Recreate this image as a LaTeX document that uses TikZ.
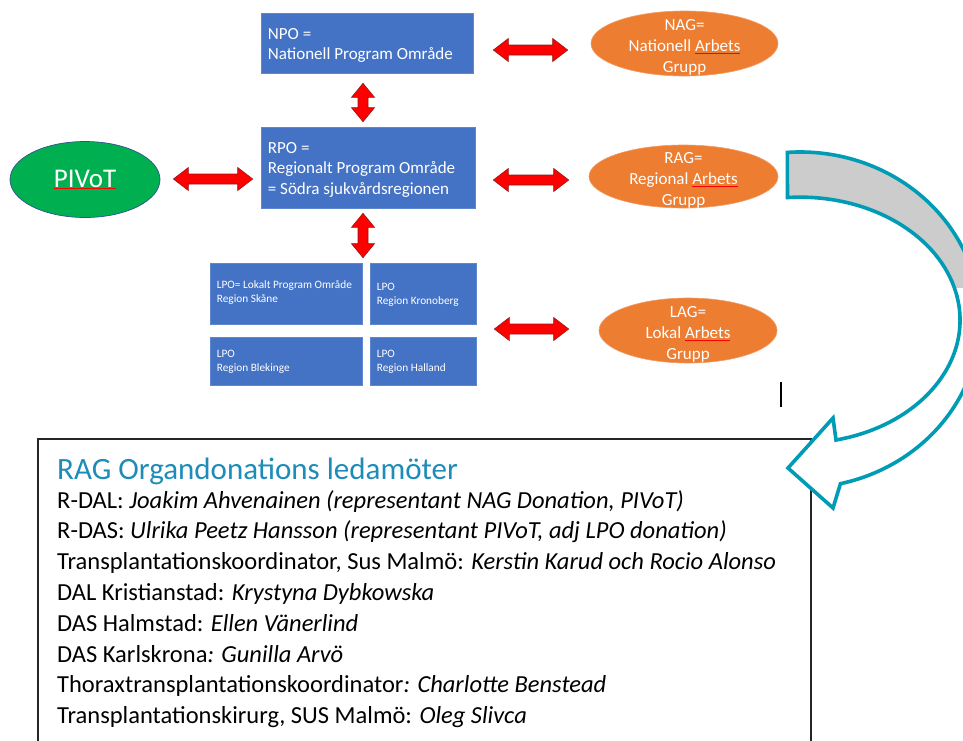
\documentclass[tikz,border=0pt]{standalone}
\usepackage{fontspec}
\setmainfont{Carlito}
\usetikzlibrary{shapes.geometric,calc}
\definecolor{boxblue}{RGB}{68,114,196}
\definecolor{boxedge}{RGB}{95,135,208}
\definecolor{agorange}{RGB}{237,125,49}
\definecolor{agedge}{RGB}{242,155,100}
\definecolor{pivgreen}{RGB}{0,176,80}
\definecolor{pivedge}{RGB}{47,82,143}
\definecolor{arrred}{RGB}{255,0,0}
\definecolor{arredge}{RGB}{150,25,25}
\definecolor{curveteal}{RGB}{0,155,180}
\definecolor{titleblue}{RGB}{30,140,185}
\definecolor{bandgrey}{RGB}{204,204,204}
\newcommand\spell[1]{\textcolor{red}{\underline{\textcolor{white}{#1}}}}
\newcommand\hdarrow[2]{%
  \path[redarrow] let \p1=(#1), \p2=(#2) in
    (\x1,\y1) -- (\x1+15pt,\y1+11.5pt) -- (\x1+15pt,\y1+5pt) -- (\x2-15pt,\y1+5pt)
    -- (\x2-15pt,\y1+11.5pt) -- (\x2,\y1) -- (\x2-15pt,\y1-11.5pt) -- (\x2-15pt,\y1-5pt)
    -- (\x1+15pt,\y1-5pt) -- (\x1+15pt,\y1-11.5pt) -- cycle;}
\newcommand\vdarrow[2]{%
  \path[redarrow] let \p1=(#1), \p2=(#2) in
    (\x1,\y1) -- (\x1+11.5pt,\y1-14pt) -- (\x1+5pt,\y1-14pt) -- (\x1+5pt,\y2+14pt)
    -- (\x1+11.5pt,\y2+14pt) -- (\x1,\y2) -- (\x1-11.5pt,\y2+14pt) -- (\x1-5pt,\y2+14pt)
    -- (\x1-5pt,\y1-14pt) -- (\x1-11.5pt,\y1-14pt) -- cycle;}
\newcommand\curvedarrowpath{(787.4,152.4) arc[start angle=-94, end angle=77, x radius=180, y radius=168]
  -- (833,508) -- (788,468) -- (833,418) -- (836,440)
  arc[start angle=77, end angle=-94.5, x radius=160, y radius=123] -- cycle}
\begin{document}
\begin{tikzpicture}[x=1pt,y=-1pt,
  bluebox/.style={draw=boxedge, line width=0.6pt, fill=boxblue, inner sep=0pt},
  boxtext/.style={anchor=north west, inner sep=0pt, text=white, align=left,
    font=\fontsize{17}{20.5}\selectfont},
  lpotext/.style={boxtext, font=\fontsize{11.3}{14}\selectfont},
  agell/.style={ellipse, draw=agedge, line width=0.6pt, fill=agorange, inner sep=0pt},
  agtext/.style={text=white, align=center, inner sep=0pt, font=\fontsize{17}{21}\selectfont},
  pivell/.style={ellipse, draw=pivedge, line width=0.7pt, fill=pivgreen, inner sep=0pt,
    text=white, font=\fontsize{27}{30}\selectfont},
  redarrow/.style={fill=arrred, draw=arredge, line width=0.6pt, line join=miter},
  curvearrow/.style={draw=curveteal, line width=3.6pt, line join=miter},
  boxline/.style={draw=black!85, line width=1.2pt},
  titletext/.style={anchor=base west, inner sep=0pt, text=titleblue, font=\fontsize{31}{36}\selectfont},
  member/.style={anchor=base west, inner sep=0pt, font=\fontsize{24.5}{28}\selectfont}]
\useasboundingbox (0,0) rectangle (963,740);
\fill[white] (0,0) rectangle (963,740);

% program areas
\node[bluebox, minimum width=212pt, minimum height=60pt] (npo) at (367,43) {};
\node[boxtext] (npot) at ($(npo.north west)+(7,15.5)$) {NPO =\\Nationell Program Område};
\node[bluebox, minimum width=214pt, minimum height=81pt] (rpo) at (368,167.5) {};
\node[boxtext] (rpot) at ($(rpo.north west)+(7,15.5)$) {RPO =\\Regionalt Program Område\\= Södra sjukvårdsregionen};
\node[bluebox, minimum width=152pt, minimum height=61pt] (skane) at (286,293.5) {};
\node[lpotext] (skanet) at ($(skane.north west)+(7,17.5)$) {LPO= Lokalt Program Område\\Region Skåne};
\node[bluebox, minimum width=106pt, minimum height=61pt] (kron) at (423,293.5) {};
\node[lpotext] (kront) at ($(kron.north west)+(7,20)$) {LPO\\Region Kronoberg};
\node[bluebox, minimum width=152pt, minimum height=48pt] (blek) at (286,361) {};
\node[lpotext] (blekt) at ($(blek.north west)+(7,13.5)$) {LPO\\Region Blekinge};
\node[bluebox, minimum width=106pt, minimum height=48pt] (hall) at (423,361) {};
\node[lpotext] (hallt) at ($(hall.north west)+(7,13.5)$) {LPO\\Region Halland};

% working groups
\node[agell, minimum width=187pt, minimum height=65pt] (nag) at (684.5,43.5) {};
\node[agtext] (nagt) at ($(nag.center)+(0,4)$) {NAG=\\Nationell \spell{Arbets}\\Grupp};
\node[agell, minimum width=189pt, minimum height=63pt] (rag) at (683.5,176.5) {};
\node[agtext] (ragt) at ($(rag.center)+(0,4)$) {RAG=\\Regional \spell{Arbets}\\Grupp};
\node[agell, minimum width=178pt, minimum height=65pt] (lag) at (688,330.5) {};
\node[agtext] (lagt) at ($(lag.center)+(0,4)$) {LAG=\\Lokal \spell{Arbets}\\Grupp};

\node[pivell, minimum width=150pt, minimum height=76pt] (pivot) at (85,179.5) {\spell{PIVoT}};

% red double arrows
\coordinate (h1a) at ($(npo.east)+(20,7)$);
\coordinate (h1b) at ($(nag.west)+(-23,6.5)$);
\coordinate (h2a) at ($(rpo.east)+(18,12.5)$);
\coordinate (h2b) at ($(rag.west)+(-20,3.5)$);
\coordinate (h3a) at ($(pivot.east)+(13,-0.5)$);
\coordinate (h3b) at ($(rpo.west)+(-8,11.5)$);
\coordinate (h4a) at ($(kron.south east)!0.5!(hall.north east)+(18,-1.5)$);
\coordinate (h4b) at ($(lag.west)+(-30,-1.5)$);
\coordinate (v1a) at ($(npo.south)+(-4,10)$);
\coordinate (v1b) at ($(rpo.north)+(-5,-5)$);
\coordinate (v2a) at ($(rpo.south)+(-5,5)$);
\coordinate (v2b) at ($(skane.north east)!0.5!(kron.north west)+(-3,-5)$);
\hdarrow{h1a}{h1b}
\hdarrow{h2a}{h2b}
\hdarrow{h3a}{h3b}
\hdarrow{h4a}{h4b}
\vdarrow{v1a}{v1b}
\vdarrow{v2a}{v2b}

% text cursor
\draw[line width=1.4pt] (781,382) -- (781,407);

% members box
\draw[boxline] (38,760) -- (38,439) -- (811,439) -- (811,760);
\node[titletext] (title) at (57,479) {RAG Organdonations ledamöter};
\node[member] (m1) at (57,508) {R-DAL: \textit{Joakim Ahvenainen (representant NAG Donation, PIVoT)}};
\node[member] (m2) at (57,538.8) {R-DAS: \textit{Ulrika Peetz Hansson (representant PIVoT, adj LPO donation)}};
\node[member] (m3) at (57,569.6) {Transplantationskoordinator, Sus Malmö: \textit{Kerstin Karud och Rocio Alonso}};
\node[member] (m4) at (57,600.4) {DAL Kristianstad: \textit{Krystyna Dybkowska}};
\node[member] (m5) at (57,631.2) {DAS Halmstad: \textit{Ellen Vänerlind}};
\node[member] (m6) at (57,662) {DAS Karlskrona\textit{: Gunilla Arvö}};
\node[member] (m7) at (57,692.8) {Thoraxtransplantationskoordinator\textit{: Charlotte Benstead}};
\node[member] (m8) at (57,723.6) {Transplantationskirurg, SUS Malmö: \textit{Oleg Slivca}};

% curved arrow from RAG down to the members box
\fill[white] \curvedarrowpath;
\begin{scope}
  \clip (740,100) rectangle (990,287);
  \fill[bandgrey] \curvedarrowpath;
\end{scope}
\draw[curvearrow] \curvedarrowpath;
\end{tikzpicture}
\end{document}
